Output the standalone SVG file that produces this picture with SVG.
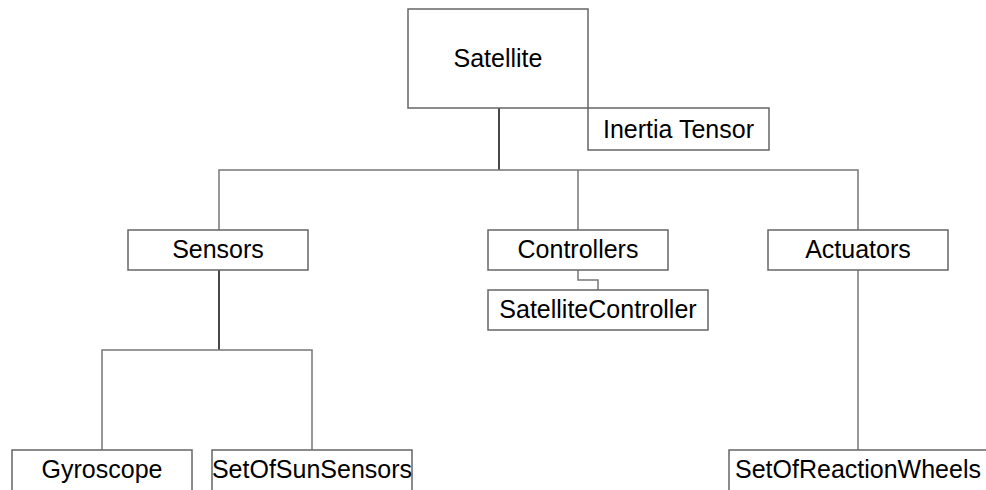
<svg xmlns="http://www.w3.org/2000/svg" width="986" height="490" viewBox="0 0 986 490">
<style>
.box{fill:#fff;stroke:#666;stroke-width:1.5}
.lbl{font-family:"Liberation Sans",Arial,sans-serif;font-size:25px;fill:#000;text-anchor:middle}
.c{fill:none;stroke:#777;stroke-width:1.5}
.d{fill:none;stroke:#333;stroke-width:1.8}
</style>
<rect width="986" height="490" fill="#fff"/>
<g id="connectors">
<path class="d" d="M499 108 V170"/>
<path class="c" d="M219 230 V170 H858 V230"/>
<path class="c" d="M578 170 V230"/>
<path class="d" d="M219 270 V350"/>
<path class="c" d="M102 450 V350 H312 V450"/>
<path class="c" d="M578 270 V280 H598 V290"/>
<path class="c" d="M858 270 V450"/>
</g>
<g id="satellite"><rect class="box" x="408" y="9" width="180" height="99"/><text class="lbl" x="498" y="67">Satellite</text></g>
<g id="inertia-tensor"><rect class="box" x="588" y="108" width="181" height="42"/><text class="lbl" x="678.5" y="138">Inertia Tensor</text></g>
<g id="sensors"><rect class="box" x="128" y="230" width="180" height="40"/><text class="lbl" x="218" y="258">Sensors</text></g>
<g id="controllers"><rect class="box" x="488" y="230" width="180" height="40"/><text class="lbl" x="578" y="258">Controllers</text></g>
<g id="actuators"><rect class="box" x="768" y="230" width="180" height="40"/><text class="lbl" x="858" y="258">Actuators</text></g>
<g id="satellite-controller"><rect class="box" x="488" y="290" width="220" height="40"/><text class="lbl" x="598" y="318">SatelliteController</text></g>
<g id="gyroscope"><rect class="box" x="12" y="450" width="180" height="42"/><text class="lbl" x="102" y="478">Gyroscope</text></g>
<g id="set-of-sun-sensors"><rect class="box" x="212" y="450" width="200" height="42"/><text class="lbl" x="312" y="478">SetOfSunSensors</text></g>
<g id="set-of-reaction-wheels"><rect class="box" x="729" y="450" width="260" height="42"/><text class="lbl" x="858" y="478">SetOfReactionWheels</text></g>
</svg>
